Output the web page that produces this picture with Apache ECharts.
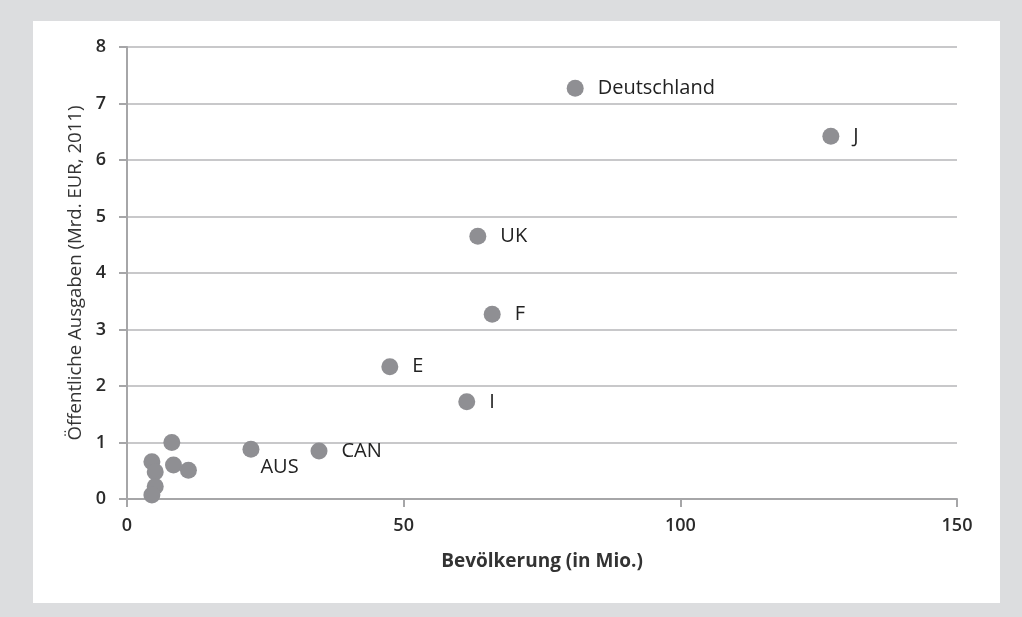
<!DOCTYPE html>
<html>
<head>
<meta charset="utf-8">
<script src="https://cdn.jsdelivr.net/npm/echarts@6/dist/echarts.min.js"></script>
<style>
  html, body { margin: 0; padding: 0; background: #dcdddf; }
  #chart { width: 1022px; height: 617px; }
</style>
</head>
<body>
<div id="chart"></div>
<script>
// Bevölkerung (Mio.) vs. öffentliche Ausgaben (Mrd. EUR, 2011)
const countries  = ['Deutschland', 'J', 'UK', 'F', 'E', 'I', 'AUS', 'CAN', '', '', '', '', '', '', ''];
const population = [81.0, 127.2, 63.4, 66.0, 47.5, 61.4, 22.4, 34.7, 8.1, 4.5, 5.1, 8.4, 11.1, 5.1, 4.5];
const spending   = [7.27, 6.42, 4.65, 3.27, 2.34, 1.72, 0.88, 0.85, 1.0, 0.66, 0.48, 0.6, 0.51, 0.22, 0.07];
const xTicks = [0, 50, 100, 150];
const yTicks = [0, 1, 2, 3, 4, 5, 6, 7, 8];

const FONT = 'Open Sans';
const points = countries.map((name, i) => {
  const p = { name: name, value: [population[i], spending[i]] };
  if (name === 'AUS') {
    // label sits below and to the right of the dot
    p.label = { position: [18, 17] };
  }
  return p;
});

const chart = echarts.init(document.getElementById('chart'), null, { renderer: 'canvas' });
chart.setOption({
  backgroundColor: '#dcdddf',
  animation: false,
  graphic: [{
    type: 'rect',
    z: -10,
    shape: { x: 33, y: 21, width: 967, height: 582 },
    style: { fill: '#ffffff' }
  }],
  grid: { left: 127, right: 65, top: 47, bottom: 118 },
  xAxis: {
    type: 'value',
    min: 0, max: 150, interval: 50,
    name: 'Bevölkerung (in Mio.)',
    nameLocation: 'middle',
    nameGap: 53,
    nameTextStyle: { fontFamily: FONT, fontSize: 19, fontWeight: 'bold', color: '#333' },
    axisLine: { show: true, lineStyle: { color: '#a6a6a8', width: 2 } },
    axisTick: { show: true, length: 8, lineStyle: { color: '#a6a6a8', width: 2 } },
    axisLabel: {
      fontFamily: FONT, fontSize: 18, fontWeight: 600, color: '#2a2a2a', margin: 18,
      formatter: v => xTicks.includes(v) ? String(v) : ''
    },
    splitLine: { show: false }
  },
  yAxis: {
    type: 'value',
    min: 0, max: 8, interval: 1,
    name: 'Öffentliche Ausgaben (Mrd. EUR, 2011)',
    nameLocation: 'middle',
    nameGap: 38,
    nameTextStyle: { fontFamily: FONT, fontSize: 18.6, color: '#333' },
    axisLine: { show: true, lineStyle: { color: '#a6a6a8', width: 2 } },
    axisTick: { show: true, length: 8, lineStyle: { color: '#a6a6a8', width: 2 } },
    axisLabel: {
      fontFamily: FONT, fontSize: 18, fontWeight: 600, color: '#2a2a2a', margin: 21,
      formatter: v => yTicks.includes(v) ? String(v) : ''
    },
    splitLine: { show: true, lineStyle: { color: '#c8c8ca', width: 2 } }
  },
  series: [{
    type: 'scatter',
    data: points,
    symbolSize: 17,
    itemStyle: { color: '#8f8f93', opacity: 1 },
    label: {
      show: true,
      position: 'right',
      distance: 14,
      formatter: p => p.name,
      fontFamily: FONT,
      fontSize: 20,
      color: '#222'
    }
  }]
});
</script>
</body>
</html>
